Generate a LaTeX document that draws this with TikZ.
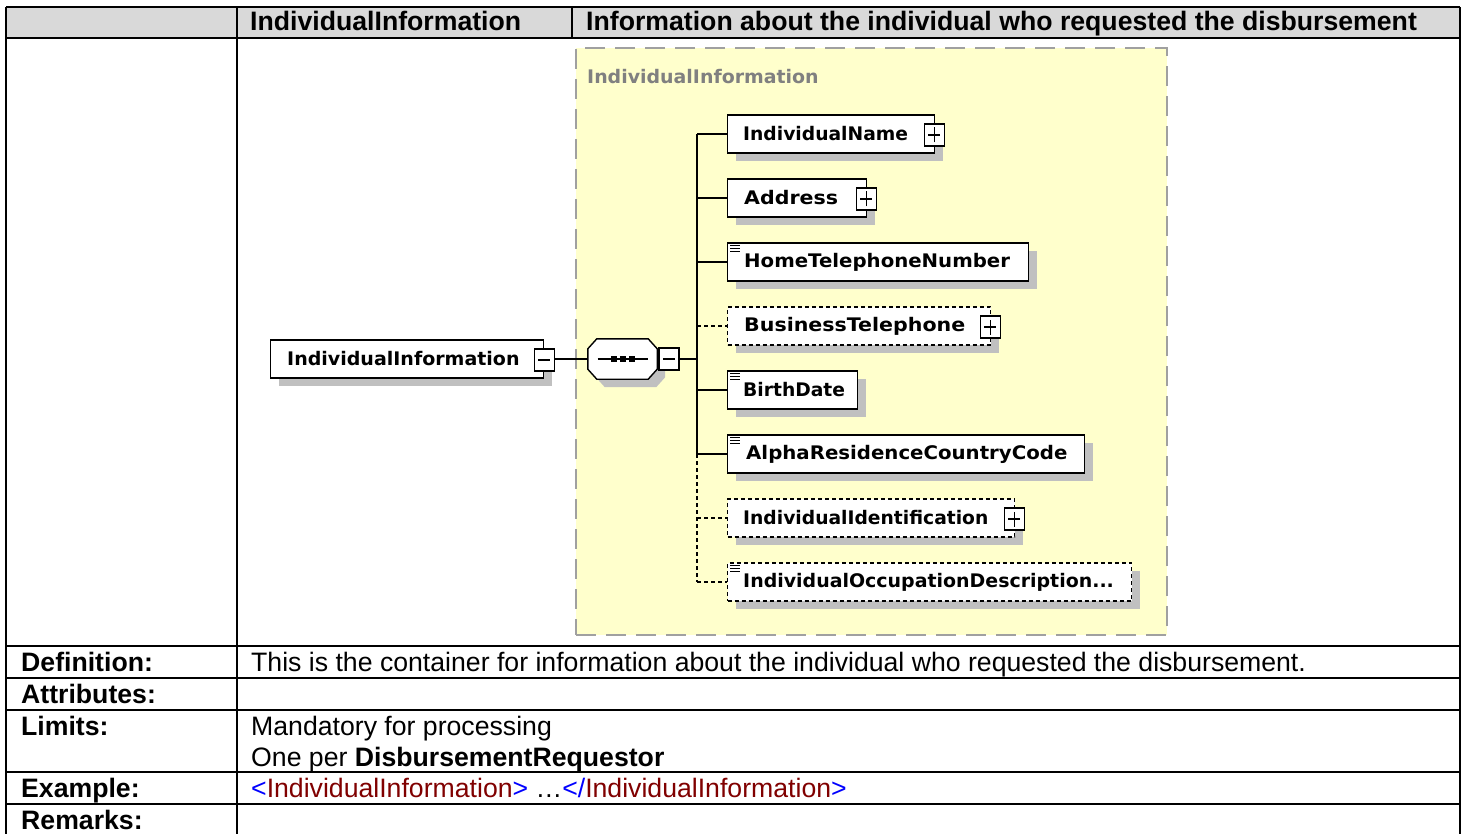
\documentclass[tikz,border=0pt]{standalone}
\usepackage{fontspec}
\setmainfont{Liberation Sans}
\newfontfamily\xsdfont{DejaVu Sans}
\usetikzlibrary{shadows}

\definecolor{headgray}{RGB}{217,217,217}
\definecolor{xsdyellow}{RGB}{255,255,204}
\definecolor{framegray}{RGB}{160,160,160}
\definecolor{shadowgray}{RGB}{192,192,192}
\definecolor{labelgray}{RGB}{128,128,128}
\definecolor{tagblue}{RGB}{0,0,255}
\definecolor{tagred}{RGB}{128,0,0}

\tikzset{
  tabtext/.style={anchor=base west, inner sep=0pt, font=\fontsize{26.65}{31}\selectfont},
  tabbold/.style={anchor=base west, inner sep=0pt, font=\fontsize{26.65}{31}\selectfont\bfseries},
  rule/.style={line width=2pt},
  elem/.style={draw, line width=1.4pt, fill=white, anchor=west, minimum height=38pt,
    inner sep=0pt,
    drop shadow={shadow xshift=8pt, shadow yshift=-8pt, fill=shadowgray, opacity=1}},
  optional/.style={dash pattern=on 4pt off 3pt},
  elemlabel/.style={anchor=west, inner sep=0pt, font=\xsdfont\bfseries\fontsize{18.7}{20}\selectfont},
  expander/.style={draw, line width=1.3pt, fill=white, minimum width=20pt, minimum height=22pt, inner sep=0pt},
  link/.style={line width=1.4pt},
  optlink/.style={line width=1.4pt, dash pattern=on 4pt off 3pt},
  group/.style={draw=framegray, fill=xsdyellow, line width=2pt, dash pattern=on 20pt off 10pt,
    anchor=north west, inner sep=0pt},
  seqbox/.style={minimum width=69pt, minimum height=40pt, inner sep=0pt}
}

% plus sign inside an expander box
\newcommand{\plusin}[1]{%
  \draw[line width=1.5pt] ([xshift=-6pt]#1.center) -- ([xshift=6pt]#1.center);
  \draw[line width=1.5pt] ([yshift=-7.5pt]#1.center) -- ([yshift=7.5pt]#1.center);}
% minus sign inside an expander box
\newcommand{\minusin}[1]{%
  \draw[line width=1.6pt] ([xshift=-6pt]#1.center) -- ([xshift=6pt]#1.center);}
% simple-content marker in the top left corner of an element box
\newcommand{\simplemark}[1]{%
  \foreach \d in {3,6,9}
    \draw[line width=1.1pt] ([xshift=3pt,yshift=-\d pt]#1.north west) -- ++(10,0);}
% octagonal outline of a compositor node
\newcommand{\octpath}[1]{([xshift=9pt]#1.north west) -- ([xshift=-9pt]#1.north east)
  -- ([yshift=-10pt]#1.north east) -- ([yshift=10pt]#1.south east)
  -- ([xshift=-9pt]#1.south east) -- ([xshift=9pt]#1.south west)
  -- ([yshift=10pt]#1.south west) -- ([yshift=-10pt]#1.north west) -- cycle}

\begin{document}
\begin{tikzpicture}[x=1pt,y=-1pt]
\useasboundingbox (0,0) rectangle (1466,834);

% ---------- table ----------
\fill[headgray] (6,7) rectangle (1460,38);
\draw[rule] (6,7) -- (1460,7);
\draw[rule] (6,7) -- (6,834);
\draw[rule] (1460,7) -- (1460,834);
\draw[rule] (237,7) -- (237,834);
\draw[rule] (572,7) -- (572,38);
\foreach \yy in {38,646,678,710,772,804}
  \draw[rule] (6,\yy) -- (1460,\yy);

\node[tabbold] (h1) at (250,31) {IndividualInformation};
\node[tabbold] (h2) at (586,31) {Information about the individual who requested the disbursement};

\node[tabbold] (l1) at (21,671) {Definition:};
\node[tabbold] (l2) at (21,703) {Attributes:};
\node[tabbold] (l3) at (21,735) {Limits:};
\node[tabbold] (l4) at (21,797) {Example:};
\node[tabbold] (l5) at (21,829) {Remarks:};

\node[tabtext] (v1) at (251,671) {This is the container for information about the individual who requested the disbursement.};
\node[tabtext] (v3a) at (251,735) {Mandatory for processing};
\node[tabtext] (v3b) at (251,766) {One per \textbf{DisbursementRequestor}};
\node[tabtext] (v4) at (251,797) {\textcolor{tagblue}{<}\textcolor{tagred}{IndividualInformation}\textcolor{tagblue}{>} …\textcolor{tagblue}{</}\textcolor{tagred}{IndividualInformation}\textcolor{tagblue}{>}};

% ---------- schema diagram ----------
\node[group, minimum width=591pt, minimum height=587pt] (grp) at (575,47) {};
\node[elemlabel, text=labelgray] (grplabel) at (587,77) {\scalebox{1.013}[1]{IndividualInformation}};

% root element
\node[elem, minimum width=273pt] (root) at (270,359) {};
\node[elemlabel] (roottext) at (287,359) {\scalebox{1.017}[1]{IndividualInformation}};
\node[expander] (rootx) at ([yshift=-1pt]root.east) {};
\minusin{rootx}

% sequence compositor (octagon with its drop shadow)
\node[seqbox] (seqshadow) at (630.5,367) {};
\node[seqbox] (seq) at (622.5,359) {};
\fill[shadowgray] \octpath{seqshadow};
\draw[line width=1.4pt, fill=white] \octpath{seq};
\draw[line width=1.4pt] ([xshift=-25pt]seq.center) -- ([xshift=25pt]seq.center);
\foreach \dx in {-9,0,9}
  \fill ([xshift=\dx pt-3pt, yshift=3pt]seq.center) rectangle ++(6,6);
\node[expander, anchor=west] (seqx) at ([xshift=1pt]seq.east) {};
\minusin{seqx}

\draw[link] (rootx.east |- seq.west) -- (seq.west);
\coordinate (trunk) at (697,359);
\draw[link] (seqx.east) -- (trunk);

% child elements
\node[elem, minimum width=207pt] (c1) at (727,134) {};
\node[elemlabel] at ([xshift=16pt]c1.west) {IndividualName};
\node[expander] (c1x) at ([xshift=-1pt,yshift=-1pt]c1.east) {};
\plusin{c1x}

\node[elem, minimum width=139pt] (c2) at (727,198) {};
\node[elemlabel] at ([xshift=17pt]c2.west) {\scalebox{1.1}[1]{Address}};
\node[expander] (c2x) at ([xshift=-1pt,yshift=-1pt]c2.east) {};
\plusin{c2x}

\node[elem, minimum width=301pt] (c3) at (727,262) {};
\node[elemlabel] at ([xshift=17pt]c3.west) {\scalebox{1.055}[1]{HomeTelephoneNumber}};
\simplemark{c3}

\node[elem, optional, minimum width=263pt] (c4) at (727,326) {};
\node[elemlabel] at ([xshift=17pt]c4.west) {\scalebox{1.1}[1]{BusinessTelephone}};
\node[expander] (c4x) at ([xshift=-1pt,yshift=-1pt]c4.east) {};
\plusin{c4x}

\node[elem, minimum width=130pt] (c5) at (727,390) {};
\node[elemlabel] at ([xshift=16pt]c5.west) {BirthDate};
\simplemark{c5}

\node[elem, minimum width=357pt] (c6) at (727,454) {};
\node[elemlabel] at ([xshift=19pt]c6.west) {\scalebox{1.056}[1]{AlphaResidenceCountryCode}};
\simplemark{c6}

\node[elem, optional, minimum width=287pt] (c7) at (727,518) {};
\node[elemlabel] at ([xshift=16pt]c7.west) {IndividualIdentification};
\node[expander] (c7x) at ([xshift=-1pt,yshift=-1pt]c7.east) {};
\plusin{c7x}

\node[elem, optional, minimum width=404pt] (c8) at (727,582) {};
\node[elemlabel] at ([xshift=16pt]c8.west) {\scalebox{1.014}[1]{IndividualOccupationDescription...}};
\simplemark{c8}

% connectors from the sequence trunk
\draw[link] (trunk |- c1.west) -- (trunk |- c6.west);
\draw[optlink] (trunk |- c6.west) -- (trunk |- c8.west);
\foreach \c in {c1,c2,c3,c5,c6}
  \draw[link] (trunk |- \c.west) -- (\c.west);
\foreach \c in {c4,c7,c8}
  \draw[optlink] (trunk |- \c.west) -- (\c.west);
\end{tikzpicture}
\end{document}
